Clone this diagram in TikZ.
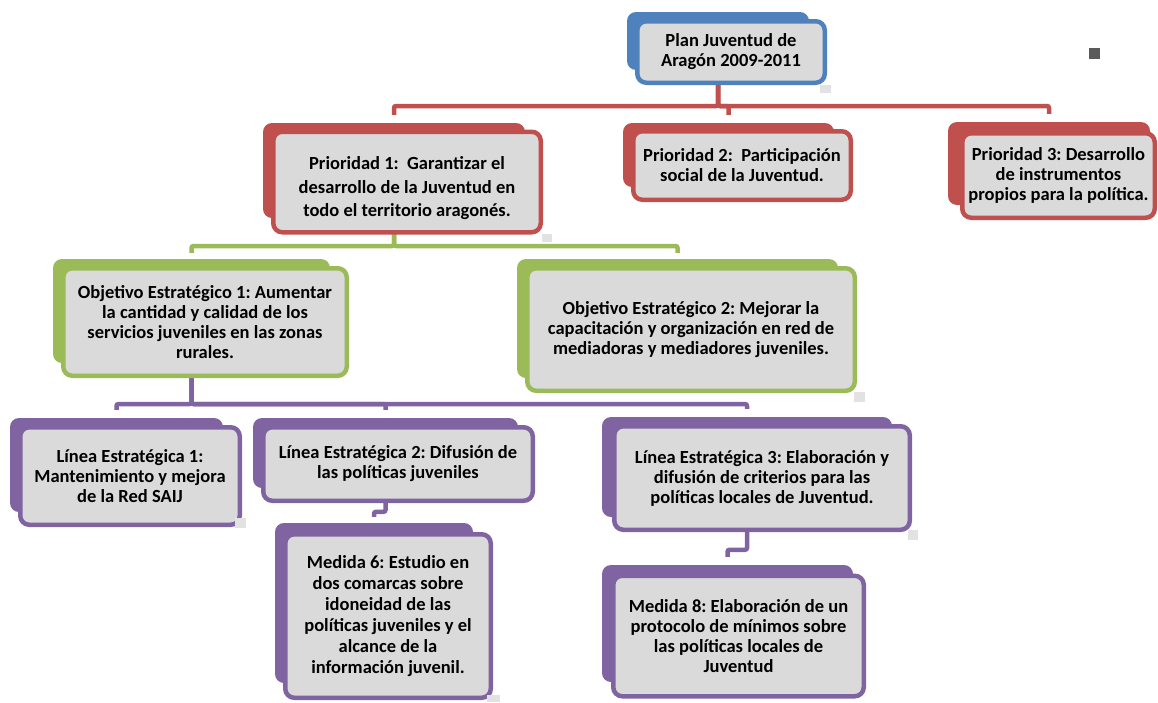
\documentclass[tikz,border=0pt]{standalone}
\usepackage{fontspec}
\setmainfont{Carlito}
\frenchspacing
\usepackage{tikz}
\usetikzlibrary{calc,backgrounds}
\definecolor{planblue}{HTML}{4F81BD}
\definecolor{prired}{HTML}{C0504D}
\definecolor{objgreen}{HTML}{9BBB59}
\definecolor{linpurple}{HTML}{8064A2}
\definecolor{boxgray}{HTML}{DADADA}
\definecolor{handlegray}{HTML}{E2E2E2}
\definecolor{darkhandle}{HTML}{5A5A5A}
\tikzstyle{front} = [draw, line width=4.5pt, fill=boxgray, rounded corners=9pt, align=center, inner sep=0pt, font=\bfseries\fontsize{18.5}{20}\selectfont]
\tikzstyle{back} = [rounded corners=9pt, inner sep=0pt]
\tikzstyle{conn} = [line width=4.5pt, rounded corners=2pt]

\begin{document}
\begin{tikzpicture}[x=1pt,y=-1pt]
    \useasboundingbox (0,0) rectangle (1158,702);

    % level 0
    \node[back, fill=planblue, minimum width=182, minimum height=58] (planb) at (718,41) {};
    \node[front, draw=planblue, minimum width=187.5, minimum height=61.5] (plan) at (731,52)
        {Plan Juventud de\\Aragón 2009-2011};

    % prioridades
    \node[back, fill=prired, minimum width=262, minimum height=95] (p1b) at (394,170.5) {};
    \node[front, draw=prired, minimum width=267.5, minimum height=100.5,
          font=\bfseries\fontsize{18.5}{23.5}\selectfont] (p1) at (407,182)
        {\rule{0pt}{26pt}Prioridad 1:\ \ Garantizar el\\desarrollo de la Juventud en\\todo el territorio aragonés.};
    \node[back, fill=prired, minimum width=211, minimum height=64] (p2b) at (728.5,155) {};
    \node[front, draw=prired, minimum width=217.5, minimum height=68.5] (p2) at (742,165.5)
        {Prioridad 2:\ \ Participación\\social de la Juventud.};
    \node[back, fill=prired, minimum width=202, minimum height=83] (p3b) at (1049,163.5) {};
    \node[front, draw=prired, minimum width=192.5, minimum height=84.5] (p3) at (1058.5,175.5)
        {Prioridad 3: Desarrollo\\de instrumentos\\propios para la política.};

    % objetivos
    \node[back, fill=objgreen, minimum width=277, minimum height=104] (o1b) at (191.5,311) {};
    \node[front, draw=objgreen, minimum width=283.5, minimum height=107.5] (o1) at (205,322)
        {Objetivo Estratégico 1: Aumentar\\la cantidad y calidad de los\\servicios juveniles en las zonas\\rurales.};
    \node[back, fill=objgreen, minimum width=321, minimum height=119] (o2b) at (677.5,318.5) {};
    \node[front, draw=objgreen, minimum width=327.5, minimum height=122.5] (o2) at (691,329.5)
        {Objetivo Estratégico 2: Mejorar la\\capacitación y organización en red de\\mediadoras y mediadores juveniles.};

    % lineas
    \node[back, fill=linpurple, minimum width=213, minimum height=94] (l1b) at (116.5,465) {};
    \node[front, draw=linpurple, minimum width=219.5, minimum height=97.5] (l1) at (130,476)
        {Línea Estratégica 1:\\Mantenimiento y mejora\\de la Red SAIJ};
    \node[back, fill=linpurple, minimum width=265, minimum height=70] (l2b) at (385.5,453) {};
    \node[front, draw=linpurple, minimum width=269.5, minimum height=73.5] (l2) at (398,464)
        {Línea Estratégica 2: Difusión de\\las políticas juveniles};
    \node[back, fill=linpurple, minimum width=290, minimum height=100] (l3b) at (747,467) {};
    \node[front, draw=linpurple, minimum width=295.5, minimum height=103.5] (l3) at (762,478)
        {Línea Estratégica 3: Elaboración y\\difusión de criterios para las\\políticas locales de Juventud.};

    % medidas
    \node[back, fill=linpurple, minimum width=198, minimum height=160] (m6b) at (374,603) {};
    \node[front, draw=linpurple, minimum width=205.5, minimum height=163.5,
          font=\bfseries\fontsize{18.5}{21}\selectfont] (m6) at (388,616)
        {Medida 6: Estudio en\\dos comarcas sobre\\idoneidad de las\\políticas juveniles y el\\alcance de la\\información juvenil.};
    \node[back, fill=linpurple, minimum width=251, minimum height=117] (m8b) at (727.5,623.5) {};
    \node[front, draw=linpurple, minimum width=250.5, minimum height=120.5] (m8) at (738.5,636)
        {Medida 8: Elaboración de un\\protocolo de mínimos sobre\\las políticas locales de\\Juventud};

    % connectors, behind the boxes
    \begin{pgfonlayer}{background}
    \coordinate (redbus) at (0,106);
    \coordinate (greenbus) at (0,246);
    \coordinate (purplebus) at (0,404);
    \foreach \c in {p1b,p2b,p3b}
        \draw[conn, prired] (planb.south) |- (\c.north |- redbus) -- ($(\c.north)+(0,-8)$);
    \foreach \c in {o1b,o2b}
        \draw[conn, objgreen] (p1b.south) |- (\c.north |- greenbus) -- ($(\c.north)+(0,-6)$);
    \foreach \c in {l1b,l2b,l3b}
        \draw[conn, linpurple] (o1b.south) |- (\c.north |- purplebus) -- ($(\c.north)+(0,-8)$);
    \draw[conn, linpurple] (l2b.south) |- ($(m6b.north)+(0,-11)$) -- ($(m6b.north)+(0,-6)$);
    \draw[conn, linpurple] (l3b.south) |- ($(m8b.north)+(0,-15)$) -- ($(m8b.north)+(0,-8)$);
    \end{pgfonlayer}

    % little handles left over in the picture
    \fill[handlegray] (820,85) rectangle (831,93);
    \fill[handlegray] (542,234) rectangle (552,242);
    \fill[handlegray] (854,392) rectangle (865,402);
    \fill[handlegray] (235,518) rectangle (246,528);
    \fill[handlegray] (908,530) rectangle (918,540);
    \fill[handlegray] (487,695) rectangle (500,702);
    \fill[darkhandle] (1089,48) rectangle (1100,59);
\end{tikzpicture}
\end{document}
